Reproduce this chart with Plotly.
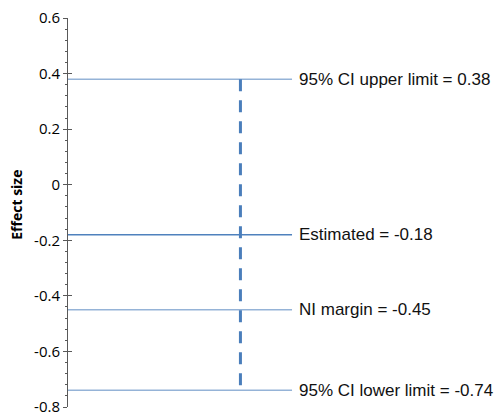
import plotly.graph_objects as go

# Data
labels = ["95% CI upper limit", "Estimated", "NI margin", "95% CI lower limit"]
values = [0.38, -0.18, -0.45, -0.74]
ci_upper = 0.38
ci_lower = -0.74
tick_vals = [0.6, 0.4, 0.2, 0, -0.2, -0.4, -0.6, -0.8]
tick_text = ["0.6", "0.4", "0.2", "0", "-0.2", "-0.4", "-0.6", "-0.8"]
y_title = "Effect size"

line_colors = ["#95b3d7", "#4f81bd", "#95b3d7", "#95b3d7"]
LINE_END = 0.521
DASH_X = 0.401

fig = go.Figure()
for lab, v, c in zip(labels, values, line_colors):
    fig.add_trace(go.Scatter(x=[0, LINE_END], y=[v, v], mode="lines",
                             line=dict(color=c, width=1.5), hoverinfo="skip",
                             showlegend=False))
    fig.add_annotation(x=LINE_END, y=v, xref="x", yref="y",
                       text=f"{lab} = {v:.2f}", showarrow=False,
                       xanchor="left", yanchor="middle", xshift=5,
                       font=dict(family="Liberation Sans, Arial", size=17, color="#111111"))

fig.add_trace(go.Scatter(x=[DASH_X, DASH_X], y=[ci_upper, ci_lower], mode="lines",
                         line=dict(color="#4a7ebb", width=3, dash="12px,9px"),
                         hoverinfo="skip", showlegend=False))

fig.add_annotation(x=0, y=0.52, xref="paper", yref="paper", xshift=-51,
                   text=f"<b>{y_title}</b>", textangle=-90, showarrow=False,
                   xanchor="center", yanchor="middle",
                   font=dict(family="Open Sans", size=14, color="#000000"))

fig.update_layout(
    width=498, height=417,
    margin=dict(l=68, r=0, t=18, b=10),
    paper_bgcolor="white", plot_bgcolor="white",
    xaxis=dict(range=[0, 1], visible=False, fixedrange=True),
    yaxis=dict(range=[-0.8, 0.6], tickvals=tick_vals, ticktext=tick_text,
               showgrid=False, zeroline=False, showline=True,
               linecolor="#595959", linewidth=1,
               ticks="outside", ticklen=4, tickcolor="#595959",
               tickfont=dict(family="Open Sans", size=15, color="#000000"),
               minor=dict(dtick=0.04, tick0=0, ticks="outside", ticklen=2,
                          tickcolor="#595959", showgrid=False)),
    yaxis2=dict(range=[-0.8, 0.6], overlaying="y", side="left", anchor="x",
                tickvals=tick_vals, showticklabels=False, showgrid=False,
                zeroline=False, ticks="inside", ticklen=4, tickcolor="#595959"),
)
fig.add_trace(go.Scatter(x=[None], y=[None], yaxis="y2", showlegend=False, hoverinfo="skip"))

fig.write_html("out.html", config={"displayModeBar": False},
               post_script="document.body.style.margin='0';document.body.style.overflow='hidden';")
